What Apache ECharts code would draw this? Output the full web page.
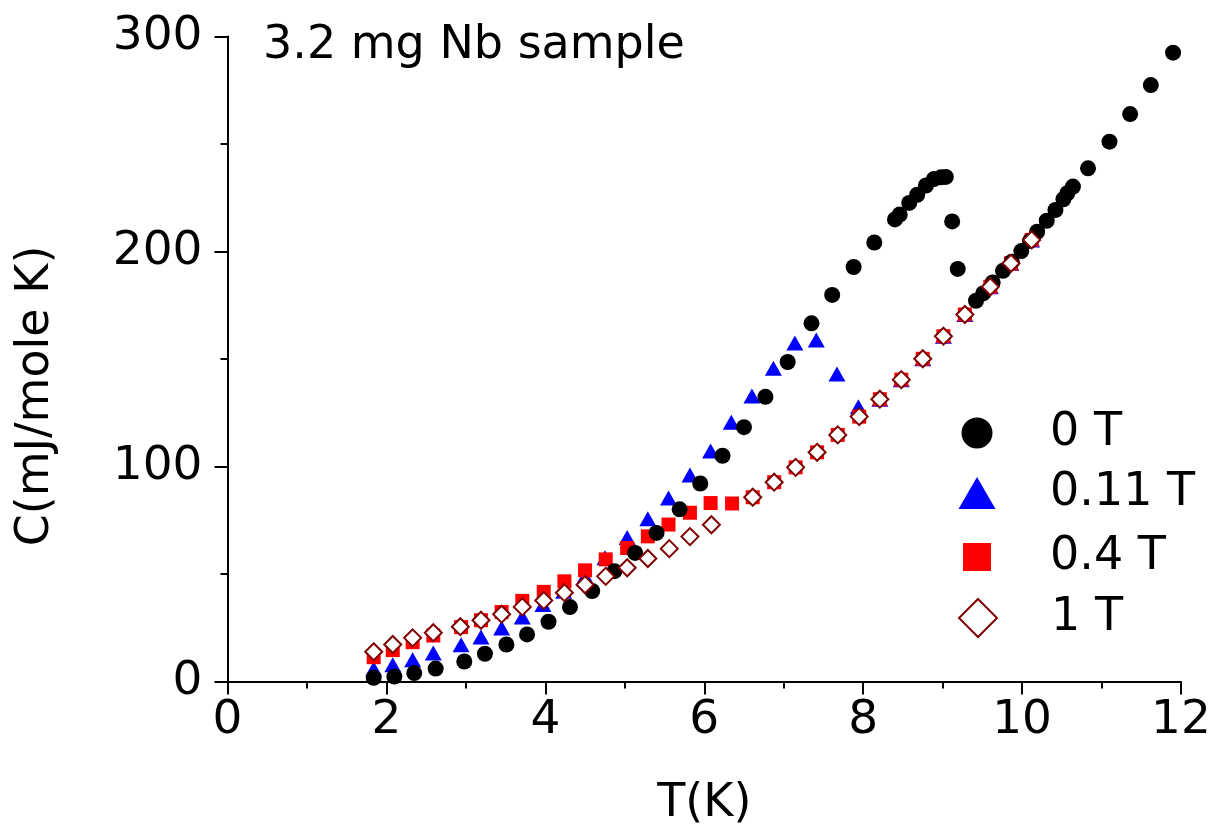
<!DOCTYPE html>
<html>
<head>
<meta charset="utf-8">
<script src="https://cdn.jsdelivr.net/npm/echarts@6/dist/echarts.min.js"></script>
<style>
html,body{margin:0;padding:0;background:#fff;}
#chart{width:1214px;height:836px;}
</style>
</head>
<body>
<div id="chart"></div>
<script>
// ---- data ----
const xTickLabels = ['0','2','4','6','8','10','12'];
const yTickLabels = ['0','100','200','300'];

const seriesNames = ['0 T','0.11 T','0.4 T','1 T'];

const t0 = [1.84,2.10,2.35,2.62,2.98,3.24,3.51,3.77,4.04,4.31,4.59,4.87,5.13,5.40,5.69,5.95,6.23,6.50,6.77,7.05,7.35,7.61,7.88,8.14,8.40,8.46,8.58,8.68,8.79,8.89,8.98,9.04,9.12,9.19,9.42,9.51,9.63,9.76,9.87,9.99,10.10,10.19,10.31,10.42,10.52,10.57,10.64,10.83,11.10,11.36,11.62,11.90];
const c0 = [1.7,2.3,3.9,6.0,9.3,12.9,17.2,21.9,27.8,34.6,42.1,51.3,59.8,69.1,80.1,92.1,105,118.3,132.4,148.6,166.6,179.8,192.8,204.2,214.9,217.2,222.6,226.4,230.7,233.7,234.5,234.7,214,191.9,177.1,180.5,185.6,191.0,195.2,200.2,204.9,209.2,214.3,219.3,224.3,227.1,230.2,238.7,251.1,263.9,277.4,292.5];

const t011 = [1.84,2.08,2.33,2.59,2.94,3.19,3.45,3.71,3.97,4.23,4.50,4.75,5.03,5.29,5.55,5.82,6.08,6.34,6.60,6.87,7.14,7.41,7.67,7.94,8.21,8.48,8.75,9.01,9.28,9.60,9.86,10.12];
const c011 = [5.9,7.8,10.1,13.2,17.1,20.7,24.9,30.0,35.8,42,49,57.6,67,75.7,85.3,96.0,107.2,120.6,132.8,145.7,157.5,158.8,143,127.8,131.3,140.4,150.1,160.6,170.7,183.6,194.5,205.4];

const t04 = [1.84,2.08,2.33,2.59,2.94,3.19,3.45,3.71,3.98,4.24,4.50,4.76,5.03,5.29,5.55,5.82,6.08,6.35,6.61,6.88,7.15,7.42,7.68,7.95,8.21,8.48,8.75,9.01,9.28,9.60,9.86,10.12];
const c04 = [11.3,14.6,18.3,21.4,25.3,28.5,32.3,37.5,41.7,46.6,51.7,56.8,62.1,67.5,73,78.5,83,82.8,85.7,92.7,99.6,106.6,114.7,123.2,131.3,140.4,150.1,160.6,170.7,183.6,194.5,205.4];

const t1 = [1.84,2.08,2.33,2.59,2.93,3.19,3.45,3.71,3.98,4.24,4.50,4.76,5.03,5.29,5.56,5.82,6.09,6.61,6.88,7.15,7.42,7.68,7.95,8.21,8.48,8.75,9.01,9.28,9.60,9.86,10.12];
const c1 = [13.8,17.2,20.3,22.7,25.5,28.5,31.3,34.7,37.7,41.3,45.0,48.9,52.9,57.2,61.8,67.4,72.9,85.7,92.7,99.6,106.6,114.7,123.2,131.3,140.4,150.1,160.6,170.7,183.6,194.5,205.4];

// ---- build ----
function pairs(xs, ys){ return xs.map((x,i)=>[x, ys[i]]); }
const FONT = '"DejaVu Sans", sans-serif';

const chart = echarts.init(document.getElementById('chart'), null, {renderer:'canvas'});

function legendFor(name, w, h, rowCenter, iconCenterX){
  const left = iconCenterX - w/2;
  const textLeft = 1050;
  const pad = textLeft - (left + w + 5);
  return {
    data:[name], orient:'vertical', left:left, top: rowCenter - 22, padding:0,
    itemWidth:w, itemHeight:h, selectedMode:true,
    textStyle:{fontFamily:FONT, fontSize:46, color:'#000', padding:[0,0,0,pad], lineHeight:46}
  };
}

const option = {
  animation:false,
  backgroundColor:'#fff',
  title:{
    text:'3.2 mg Nb sample', left:263, top:23, padding:0,
    textStyle:{fontFamily:FONT, fontSize:46, fontWeight:'normal', color:'#000'}
  },
  legend:[
    legendFor(seriesNames[0], 31, 31, 432, 977),
    legendFor(seriesNames[1], 37, 32, 492, 977),
    legendFor(seriesNames[2], 28, 28, 556, 977),
    legendFor(seriesNames[3], 38, 38, 617, 977)
  ],
  grid:{left:227.5, right:33, top:36.5, bottom:154.5, containLabel:false},
  xAxis:{
    type:'value', min:0, max:12, interval:2,
    name:'T(K)', nameLocation:'middle', nameGap:100,
    nameTextStyle:{fontFamily:FONT, fontSize:46, color:'#000'},
    axisLine:{show:true, onZero:false, lineStyle:{color:'#000', width:2}},
    axisTick:{show:true, inside:false, length:13, lineStyle:{color:'#000', width:2}},
    minorTick:{show:true, splitNumber:2, length:7, lineStyle:{color:'#000', width:2}},
    axisLabel:{fontFamily:FONT, fontSize:47, color:'#000', margin:16,
      formatter:(v)=>{ const i = Math.round(v/2); return xTickLabels[i] ?? ''; }},
    splitLine:{show:false}, minorSplitLine:{show:false}
  },
  yAxis:{
    type:'value', min:0, max:300, interval:100,
    name:'C(mJ/mole K)', nameLocation:'middle', nameGap:168, nameRotate:90,
    nameTextStyle:{fontFamily:FONT, fontSize:46, color:'#000', padding:[0,74,0,0]},
    axisLine:{show:true, onZero:false, lineStyle:{color:'#000', width:2}},
    axisTick:{show:true, inside:false, length:13, lineStyle:{color:'#000', width:2}},
    minorTick:{show:true, splitNumber:2, length:7, lineStyle:{color:'#000', width:2}},
    axisLabel:{fontFamily:FONT, fontSize:47, color:'#000', margin:25,
      formatter:(v)=>{ const i = Math.round(v/100); return yTickLabels[i] ?? ''; }},
    splitLine:{show:false}, minorSplitLine:{show:false}
  },
  series:[
    {name:seriesNames[1], type:'scatter', data:pairs(t011,c011), symbol:'triangle', symbolSize:[17,15],
      itemStyle:{color:'#0000ff', opacity:1}, z:2},
    {name:seriesNames[2], type:'scatter', data:pairs(t04,c04), symbol:'rect', symbolSize:14,
      itemStyle:{color:'#ff0000', opacity:1}, z:3},
    {name:seriesNames[0], type:'scatter', data:pairs(t0,c0), symbol:'circle', symbolSize:16,
      itemStyle:{color:'#000000', opacity:1}, z:4},
    {name:seriesNames[3], type:'scatter', data:pairs(t1,c1), symbol:'diamond', symbolSize:17,
      itemStyle:{color:'#ffffff', borderColor:'#800000', borderWidth:2, opacity:1}, z:5}
  ]
};
chart.setOption(option);
</script>
</body>
</html>
